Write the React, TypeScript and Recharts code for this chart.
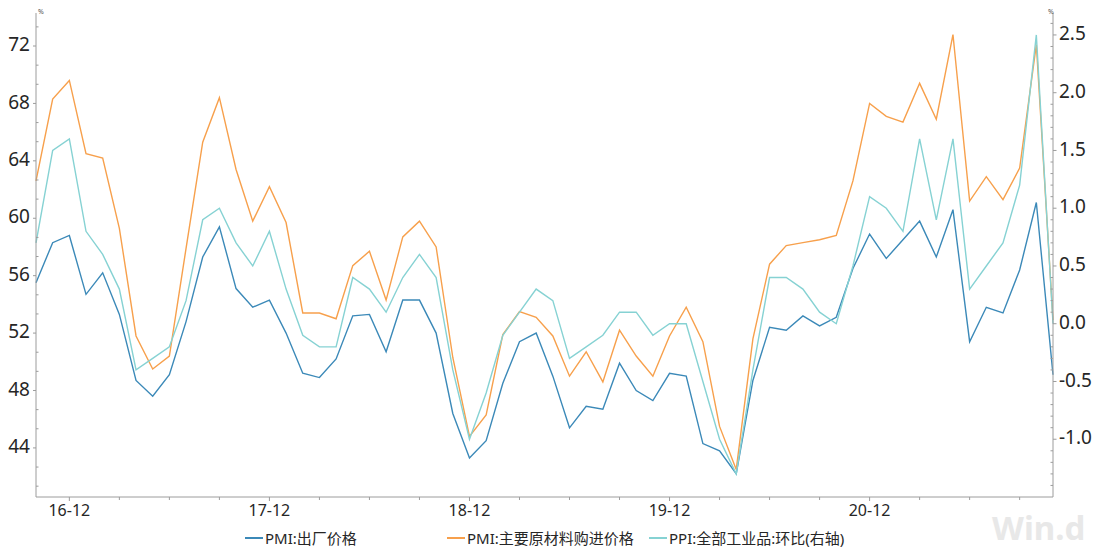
import { LineChart, Line, XAxis, YAxis } from "recharts";

// monthly, 2016-10 .. 2021-11
const months = [
  "16-10", "16-11", "16-12",
  "17-01", "17-02", "17-03", "17-04", "17-05", "17-06", "17-07", "17-08", "17-09", "17-10", "17-11", "17-12",
  "18-01", "18-02", "18-03", "18-04", "18-05", "18-06", "18-07", "18-08", "18-09", "18-10", "18-11", "18-12",
  "19-01", "19-02", "19-03", "19-04", "19-05", "19-06", "19-07", "19-08", "19-09", "19-10", "19-11", "19-12",
  "20-01", "20-02", "20-03", "20-04", "20-05", "20-06", "20-07", "20-08", "20-09", "20-10", "20-11", "20-12",
  "21-01", "21-02", "21-03", "21-04", "21-05", "21-06", "21-07", "21-08", "21-09", "21-10", "21-11",
];

// PMI:出厂价格
const pmiOutput = [
  55.5, 58.3, 58.8,
  54.7, 56.2, 53.3, 48.7, 47.6, 49.1, 52.8, 57.3, 59.4, 55.1, 53.8, 54.3,
  52.0, 49.2, 48.9, 50.2, 53.2, 53.3, 50.7, 54.3, 54.3, 52.0, 46.4, 43.3,
  44.5, 48.5, 51.4, 52.0, 49.0, 45.4, 46.9, 46.7, 49.9, 48.0, 47.3, 49.2,
  49.0, 44.3, 43.8, 42.2, 48.7, 52.4, 52.2, 53.2, 52.5, 53.1, 56.5, 58.9,
  57.2, 58.5, 59.8, 57.3, 60.6, 51.4, 53.8, 53.4, 56.4, 61.1, 49.1,
];

// PMI:主要原材料购进价格
const pmiInput = [
  62.6, 68.3, 69.6,
  64.5, 64.2, 59.3, 51.8, 49.5, 50.4, 57.9, 65.3, 68.4, 63.4, 59.8, 62.2,
  59.7, 53.4, 53.4, 53.0, 56.7, 57.7, 54.3, 58.7, 59.8, 58.0, 50.3, 44.8,
  46.3, 51.9, 53.5, 53.1, 51.8, 49.0, 50.7, 48.6, 52.2, 50.4, 49.0, 51.8,
  53.8, 51.4, 45.5, 42.5, 51.6, 56.8, 58.1, 58.3, 58.5, 58.8, 62.6, 68.0,
  67.1, 66.7, 69.4, 66.9, 72.8, 61.2, 62.9, 61.3, 63.5, 72.1, 52.9,
];

// PPI:全部工业品:环比 (right axis)
const ppiMoM = [
  0.7, 1.5, 1.6,
  0.8, 0.6, 0.3, -0.4, -0.3, -0.2, 0.2, 0.9, 1.0, 0.7, 0.5, 0.8,
  0.3, -0.1, -0.2, -0.2, 0.4, 0.3, 0.1, 0.4, 0.6, 0.4, -0.4, -1.0,
  -0.6, -0.1, 0.1, 0.3, 0.2, -0.3, -0.2, -0.1, 0.1, 0.1, -0.1, 0.0,
  0.0, -0.5, -1.0, -1.3, -0.4, 0.4, 0.4, 0.3, 0.1, 0.0, 0.5, 1.1,
  1.0, 0.8, 1.6, 0.9, 1.6, 0.3, 0.5, 0.7, 1.2, 2.5, 0.0,
];

// x ticks every quarter, labels only on December
const xTicks = [
  "16-12", "17-03", "17-06", "17-09", "17-12", "18-03", "18-06", "18-09", "18-12",
  "19-03", "19-06", "19-09", "19-12", "20-03", "20-06", "20-09", "20-12",
  "21-03", "21-06", "21-09",
];
const xLabels = ["16-12", "17-12", "18-12", "19-12", "20-12"];

const leftLabels = [44, 48, 52, 56, 60, 64, 68, 72];
const rightLabels = [-1.0, -0.5, 0.0, 0.5, 1.0, 1.5, 2.0, 2.5];

const LEFT_DOMAIN: [number, number] = [40.58, 74.3];
const RIGHT_DOMAIN: [number, number] = [-1.5, 2.69];

const SERIES = [
  { key: "pmiOutput", name: "PMI:出厂价格", color: "#3B89B8", axis: "left" },
  { key: "pmiInput", name: "PMI:主要原材料购进价格", color: "#F7A04C", axis: "left" },
  { key: "ppiMoM", name: "PPI:全部工业品:环比(右轴)", color: "#86D2D3", axis: "right" },
];

const data = months.map((m, i) => ({
  month: m,
  pmiOutput: pmiOutput[i],
  pmiInput: pmiInput[i],
  ppiMoM: ppiMoM[i],
}));

// minor ticks: thirds on the left, tenths on the right
const leftTicks: number[] = [];
for (let k = -2; k <= 22; k++) leftTicks.push(44 + (4 / 3) * k);
const rightTicks: number[] = [];
for (let k = -14; k <= 26; k++) rightTicks.push(k / 10);

const FONT = "'Noto Sans', 'Noto Sans CJK SC', sans-serif";
const AXIS = "#9c9c9c";
const TEXT = "#262626";

const near = (a: number, b: number) => Math.abs(a - b) < 1e-6;

function XTick({ x, y, payload }: any) {
  const v = payload.value as string;
  if (!xLabels.includes(v)) {
    return <line x1={x} x2={x} y1={y} y2={y + 3} stroke={AXIS} />;
  }
  return (
    <g>
      <line x1={x} x2={x} y1={y} y2={y + 4} stroke={AXIS} />
      <text x={x} y={y + 15} textAnchor="middle" dominantBaseline="middle" fill={TEXT} fontSize={16} fontFamily={FONT}>
        {v}
      </text>
    </g>
  );
}

function LeftTick({ x, y, payload }: any) {
  const v = payload.value as number;
  const major = leftLabels.some((l) => near(l, v));
  if (!major) return <line x1={x} x2={x + 2.5} y1={y} y2={y} stroke={AXIS} />;
  return (
    <g>
      <line x1={x - 3} x2={x} y1={y} y2={y} stroke={AXIS} />
      <text x={x - 6} y={y} textAnchor="end" dominantBaseline="middle" fill={TEXT} fontSize={19} fontFamily={FONT}>
        {Math.round(v)}
      </text>
    </g>
  );
}

function RightTick({ x, y, payload }: any) {
  const v = payload.value as number;
  const major = rightLabels.some((l) => near(l, v));
  if (!major) return <line x1={x - 2.5} x2={x} y1={y} y2={y} stroke={AXIS} />;
  return (
    <g>
      <line x1={x} x2={x + 3.5} y1={y} y2={y} stroke={AXIS} />
      <text x={x + 6} y={y} textAnchor="start" dominantBaseline="middle" fill={TEXT} fontSize={19} fontFamily={FONT}>
        {v.toFixed(1)}
      </text>
    </g>
  );
}

const legendLeft = [245, 447, 649];

export default function App() {
  return (
    <div style={{ position: "relative", width: 1102, height: 549, background: "#fff", fontFamily: FONT }}>
      <style>{"body{margin:0}"}</style>
      <LineChart width={1102} height={549} data={data} margin={{ top: 13, right: 0, bottom: 0, left: 0 }}>
        <XAxis
          dataKey="month"
          height={52}
          ticks={xTicks}
          interval={0}
          tickSize={0}
          tickMargin={0}
          tickLine={false}
          axisLine={{ stroke: AXIS }}
          tick={<XTick />}
        />
        <YAxis
          yAxisId="left"
          orientation="left"
          width={36}
          type="number"
          domain={LEFT_DOMAIN}
          allowDataOverflow
          ticks={leftTicks}
          interval={0}
          tickSize={0}
          tickMargin={0}
          tickLine={false}
          axisLine={{ stroke: AXIS }}
          tick={<LeftTick />}
        />
        <YAxis
          yAxisId="right"
          orientation="right"
          width={49}
          type="number"
          domain={RIGHT_DOMAIN}
          allowDataOverflow
          ticks={rightTicks}
          interval={0}
          tickSize={0}
          tickMargin={0}
          tickLine={false}
          axisLine={{ stroke: AXIS }}
          tick={<RightTick />}
        />
        {SERIES.map((s) => (
          <Line
            key={s.key}
            yAxisId={s.axis}
            dataKey={s.key}
            name={s.name}
            type="linear"
            stroke={s.color}
            strokeWidth={1.4}
            dot={false}
            activeDot={false}
            isAnimationActive={false}
          />
        ))}
      </LineChart>

      {/* unit marks at the top of both axes */}
      <div style={{ position: "absolute", left: 38, top: 7, fontSize: 7, color: "#555" }}>%</div>
      <div style={{ position: "absolute", left: 1048, top: 7, fontSize: 7, color: "#555" }}>%</div>

      {/* legend */}
      {SERIES.map((s, i) => (
        <div
          key={s.key}
          style={{
            position: "absolute",
            left: legendLeft[i],
            top: 528,
            display: "flex",
            alignItems: "center",
            whiteSpace: "nowrap",
            fontSize: 15,
            color: TEXT,
            lineHeight: "20px",
          }}
        >
          <span style={{ display: "inline-block", width: 18, height: 2, background: s.color, marginRight: 2 }} />
          {s.name}
        </div>
      ))}

      {/* watermark */}
      <span
        style={{
          position: "absolute",
          left: 992,
          top: 511,
          display: "inline-block",
          whiteSpace: "nowrap",
          fontSize: 33,
          fontWeight: 700,
          color: "#e8e8e8",
          lineHeight: "34px",
        }}
      >
        Win.d
      </span>
    </div>
  );
}
